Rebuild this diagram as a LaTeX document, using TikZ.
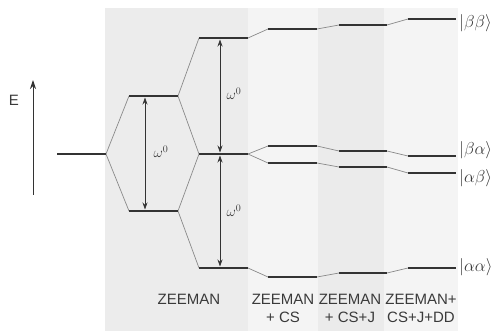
\documentclass[tikz,border=0pt]{standalone}
\usepackage{fontspec}
\setmainfont{Liberation Sans}
\usetikzlibrary{arrows.meta}
\definecolor{levelc}{HTML}{333333}
\definecolor{linkc}{HTML}{8A8A8A}
\definecolor{txtc}{HTML}{3A3A3A}
\definecolor{bandA}{HTML}{ECECEC}
\definecolor{bandB}{HTML}{F4F4F4}
\definecolor{bandC}{HTML}{EBEBEB}
\tikzset{
  level/.style={draw=levelc, line width=2.5pt},
  link/.style={draw=linkc, line width=0.7pt},
  gap/.style={draw=levelc, line width=0.8pt, {Stealth[length=7pt,width=5pt]}-{Stealth[length=7pt,width=5pt]}},
  omega/.style={text=txtc, font=\fontsize{14}{15}\selectfont},
  ket/.style={text=txtc, anchor=west, font=\fontsize{17}{18}\selectfont, inner sep=0pt},
  stage/.style={text=txtc, align=center, font=\fontsize{15}{18}\selectfont, inner sep=0pt}
}
\begin{document}
\begin{tikzpicture}[x=1pt,y=-1pt]
\useasboundingbox (0,0) rectangle (495,331);
% background bands
\fill[bandA] (105,8) rectangle (248,331);
\fill[bandB] (248,8) rectangle (318,331);
\fill[bandC] (318,8) rectangle (384,331);
\fill[bandB] (384,8) rectangle (458,331);
% energy axis
\coordinate (Ebot) at (33,195);
\coordinate (Etop) at (33,80);
\draw[draw=levelc, line width=1pt, -{Stealth[length=9pt,width=6pt]}] (Ebot) -- (Etop);
\node[text=txtc, font=\fontsize{15}{15}\selectfont] (E) at (14,100) {E};
% level coordinates: name, xleft, xright, y
\foreach \n/\xa/\xb/\y in {L0/57/106/154,
  Zu/129/178/96, Zd/129/178/211,
  Zbb/199/248/38, Zm/199/248/154, Zaa/199/248/268,
  Cbb/268/317/29, Cba/268/317/146, Cab/268/317/163, Caa/268/317/277,
  Jbb/339/387/25, Jba/339/387/151, Jab/339/387/167, Jaa/339/387/273,
  Dbb/408/456/19, Dba/408/456/156, Dab/408/456/173, Daa/408/456/268}{
  \coordinate (\n l) at (\xa,\y);
  \coordinate (\n r) at (\xb,\y);
}
% connectors
\foreach \a/\b in {L0/Zu, L0/Zd, Zu/Zbb, Zu/Zm, Zd/Zm, Zd/Zaa,
  Zbb/Cbb, Zm/Cba, Zm/Cab, Zaa/Caa,
  Cbb/Jbb, Cba/Jba, Cab/Jab, Caa/Jaa,
  Jbb/Dbb, Jba/Dba, Jab/Dab, Jaa/Daa}{
  \draw[link] (\a r) -- (\b l);
}
% levels
\foreach \n in {L0, Zu, Zd, Zbb, Zm, Zaa, Cbb, Cba, Cab, Caa, Jbb, Jba, Jab, Jaa, Dbb, Dba, Dab, Daa}{
  \draw[level] (\n l) -- (\n r);
}
% gap arrows
\coordinate (g1t) at (145,97.5);
\coordinate (g1b) at (145,209.5);
\coordinate (g2t) at (220,39.5);
\coordinate (g2m) at (220,152.5);
\coordinate (g3t) at (220,155.5);
\coordinate (g3b) at (220,266.5);
\draw[gap] (g1t) -- (g1b);
\draw[gap] (g2t) -- (g2m);
\draw[gap] (g3t) -- (g3b);
\node[omega] (w1) at (161,152) {$\omega^{0}$};
\node[omega] (w2) at (234,94) {$\omega^{0}$};
\node[omega] (w3) at (234,211) {$\omega^{0}$};
% kets
\node[ket] (kbb) at (459,23) {$|\beta\beta\rangle$};
\node[ket] (kba) at (459,150) {$|\beta\alpha\rangle$};
\node[ket] (kab) at (459,178) {$|\alpha\beta\rangle$};
\node[ket] (kaa) at (459,267) {$|\alpha\alpha\rangle$};
% stage labels
\node[stage, anchor=north] (s1) at (189,294) {ZEEMAN};
\node[stage, anchor=north] (s2) at (283,294) {ZEEMAN\\+ CS};
\node[stage, anchor=north] (s3) at (350,294) {ZEEMAN\\+ CS+J};
\node[stage, anchor=north] (s4) at (421,294) {ZEEMAN+\\CS+J+DD};
\end{tikzpicture}
\end{document}
